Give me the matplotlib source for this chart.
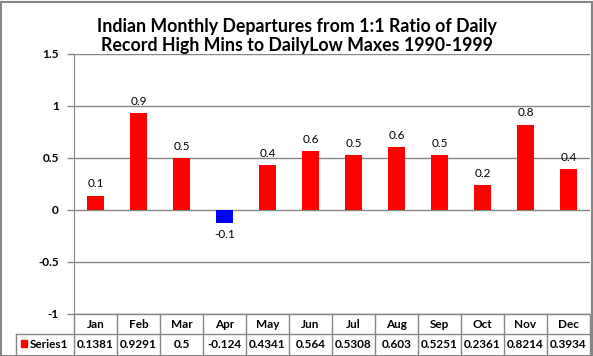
import matplotlib
matplotlib.use("Agg")
import matplotlib.pyplot as plt
from matplotlib.lines import Line2D
from matplotlib.patches import Rectangle
import matplotlib.transforms as mtransforms

months = ["Jan", "Feb", "Mar", "Apr", "May", "Jun", "Jul", "Aug", "Sep", "Oct", "Nov", "Dec"]
values = [0.1381, 0.9291, 0.5, -0.124, 0.4341, 0.564, 0.5308, 0.603, 0.5251, 0.2361, 0.8214, 0.3934]
table_text = ["0.1381", "0.9291", "0.5", "-0.124", "0.4341", "0.564", "0.5308", "0.603", "0.5251", "0.2361", "0.8214", "0.3934"]
series_name = "Series1"
title = "Indian Monthly Departures from 1:1 Ratio of Daily\nRecord High Mins to DailyLow Maxes 1990-1999"
yticks = [-1, -0.5, 0, 0.5, 1, 1.5]
ytick_labels = ["-1", "-0.5", "0", "0.5", "1", "1.5"]

plt.rcParams["font.family"] = ["Lato", "DejaVu Sans"]
GRID = "#868686"
W, H = 593, 356

fig = plt.figure(figsize=(W / 100, H / 100), dpi=100)
ax = fig.add_axes([74 / W, (H - 314) / H, (590 - 74) / W, 260 / H])

x = list(range(len(months)))
colors = ["#0000FF" if v < 0 else "#FF0000" for v in values]
ax.bar(x, values, width=0.4, color=colors, zorder=3)

for xi, v in zip(x, values):
    if v >= 0:
        ax.annotate(f"{v:.1f}", (xi, v), xytext=(0, 4.5), textcoords="offset points",
                    ha="center", va="bottom", fontsize=8.5)
    else:
        ax.annotate(f"{v:.1f}", (xi, v), xytext=(0, -4.5), textcoords="offset points",
                    ha="center", va="top", fontsize=8.5)

ax.set_xlim(-0.5, len(months) - 0.5)
ax.set_ylim(-1, 1.5)
ax.set_yticks(yticks)
ax.set_yticklabels(ytick_labels, fontsize=8.5, fontweight="bold")
ax.set_xticks([])
ax.yaxis.grid(True, color=GRID, linewidth=1)
ax.set_axisbelow(True)
ax.tick_params(axis="y", length=5, color=GRID, width=1, pad=6)
for side in ["top", "right", "bottom"]:
    ax.spines[side].set_visible(False)
ax.spines["left"].set_color(GRID)

# data table under the plot
row_h = 20 / 260
tr = mtransforms.blended_transform_factory(ax.transData, ax.transAxes)
for i, (m, t) in enumerate(zip(months, table_text)):
    ax.add_line(Line2D([i + 0.5, i + 0.5], [0, -2 * row_h], transform=tr, color=GRID, lw=1, clip_on=False))
    ax.text(i, -row_h / 2, m, transform=tr, ha="center", va="center", fontsize=8.5, fontweight="bold")
    ax.text(i, -1.5 * row_h, t, transform=tr, ha="center", va="center", fontsize=8.5, fontweight="bold")
ax.add_line(Line2D([-0.5, -0.5], [0, -2 * row_h], transform=tr, color=GRID, lw=1, clip_on=False))
ax.add_line(Line2D([-0.5, len(months) - 0.5], [0, 0], transform=tr, color=GRID, lw=1, clip_on=False))

# legend cell column, in axes coordinates
x0 = (16 - 74) / (590 - 74)
ax.add_line(Line2D([x0, 1], [-row_h, -row_h], transform=ax.transAxes, color=GRID, lw=1, clip_on=False))
ax.add_line(Line2D([x0, x0], [-row_h, -2 * row_h], transform=ax.transAxes, color=GRID, lw=1, clip_on=False))
ax.add_patch(Rectangle((21 / W, (H - 347) / H), 6 / W, 7 / H, transform=fig.transFigure,
                       color="#FF0000", clip_on=False))
fig.text(30 / W, (H - 344) / H, series_name, ha="left", va="center", fontsize=8.5, fontweight="bold")

fig.text(0.5, (H - 36) / H, title, ha="center", va="center", fontsize=12.8, fontweight="bold",
         linespacing=1.15)

# outer chart border
fig.add_artist(Rectangle((0.5 / W, 0.5 / H), (W - 2) / W, (H - 2) / H, transform=fig.transFigure,
                         fill=False, edgecolor=GRID, lw=1.5))

fig.savefig("out.png", dpi=100)
